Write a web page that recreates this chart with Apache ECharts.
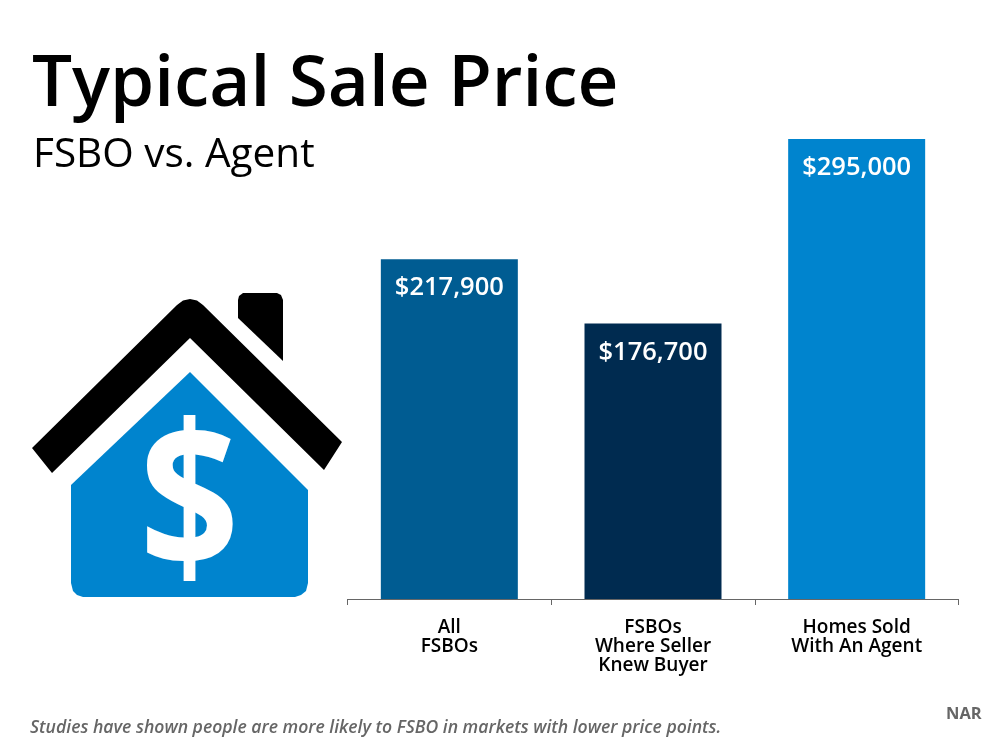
<!DOCTYPE html>
<html><head><meta charset="utf-8">
<style>html,body{margin:0;padding:0;background:#fff}#c{width:1000px;height:750px}</style>
<script src="https://cdn.jsdelivr.net/npm/echarts@6/dist/echarts.min.js"></script>
</head><body><div id="c"></div>
<script>
const categories = ['All\nFSBOs', 'FSBOs\nWhere Seller\nKnew Buyer', 'Homes Sold\nWith An Agent'];
const salePrices = [217900, 176700, 295000];
const barColors = ['#005C92', '#002B50', '#0084CE'];
const titleText = 'Typical Sale Price';
const subtitleText = 'FSBO vs. Agent';
const footnoteText = 'Studies have shown people are more likely to FSBO in markets with lower price points.';
const sourceText = 'NAR';
const FONT = '"Open Sans","Noto Sans",sans-serif';

const roof = [[32,448],[177,305],[183,300.5],[190,299],[197,300.5],[203,305],[342,442],[324,470],[190,338],[52,473]];
const chimney = [[238,300],[239,296],[243,293],[277,293],[281,295],[283,300],[283,361],[238,318]];
const body = [[190,372],[308,490],[308,583],[306,591],[301,595],[295,597],[83,597],[77,595],[73,591],[71,583],[71,485]];

const chart = echarts.init(document.getElementById('c'), null, {renderer:'canvas'});
chart.setOption({
  animation:false,
  backgroundColor:'#fff',
  grid:{left:347.5,right:41.5,top:139,bottom:151},
  xAxis:{type:'category',data:categories,
    axisLine:{lineStyle:{color:'#666',width:1}},
    axisTick:{show:true,length:6,lineStyle:{color:'#666'},alignWithLabel:false},
    axisLabel:{interval:0,color:'#000',fontFamily:FONT,fontSize:19,fontWeight:600,lineHeight:19,margin:19,verticalAlign:'top'}},
  yAxis:{type:'value',min:0,max:295000,show:false,splitLine:{show:false}},
  series:[{type:'bar',data:salePrices.map((v,i)=>({value:v,itemStyle:{color:barColors[i]}})),
    barWidth:137,
    label:{show:true,position:'insideTop',distance:16,color:'#fff',fontFamily:FONT,fontSize:25.5,fontWeight:600,
      formatter:p=>'$'+p.value.toLocaleString('en-US')}}],
  graphic:[
    {type:'text',left:32,top:50,style:{text:titleText,fill:'#000',font:'600 71px '+FONT}},
    {type:'text',left:33,top:135,style:{text:subtitleText,fill:'#000',font:'400 40.5px '+FONT}},
    {type:'text',left:30,top:719,style:{text:footnoteText,fill:'#666',font:'italic 600 17.6px '+FONT}},
    {type:'text',left:946,top:706,style:{text:sourceText,fill:'#666',font:'700 16.5px '+FONT}},
    {type:'polygon',shape:{points:roof},style:{fill:'#000'}},
    {type:'polygon',shape:{points:chimney},style:{fill:'#000'}},
    {type:'polygon',shape:{points:body},style:{fill:'#0084CE'}},
    {type:'text',x:189.5,y:511,scaleX:0.86,style:{text:'$',fill:'#fff',font:'700 203px '+FONT,textAlign:'center',textVerticalAlign:'middle'}}
  ]
});
</script></body></html>
